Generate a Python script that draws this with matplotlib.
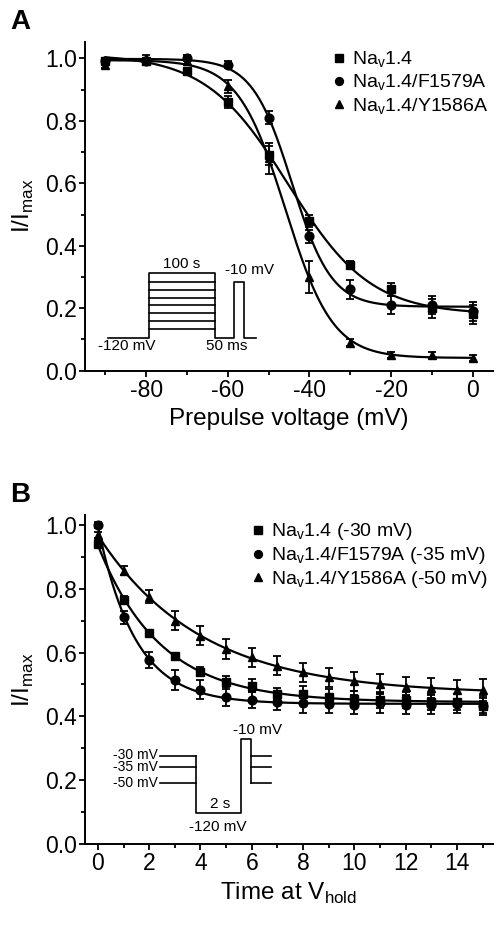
import numpy as np
import matplotlib.pyplot as plt
from matplotlib.ticker import MultipleLocator

plt.rcParams['font.family'] = ['Liberation Sans', 'DejaVu Sans']

# Panel A: steady-state slow inactivation
prepulse = [-90, -80, -70, -60, -50, -40, -30, -20, -10, 0]
nav14 = [0.99, 0.99, 0.96, 0.86, 0.69, 0.48, 0.34, 0.26, 0.20, 0.18]
nav14_err = [0.01, 0.01, 0.01, 0.02, 0.03, 0.02, 0.01, 0.02, 0.03, 0.03]
f1579a = [0.99, 0.99, 1.00, 0.98, 0.81, 0.43, 0.26, 0.21, 0.21, 0.19]
f1579a_err = [0.01, 0.01, 0.01, 0.01, 0.02, 0.02, 0.03, 0.03, 0.03, 0.03]
y1586a = [0.98, 1.00, 0.99, 0.91, 0.68, 0.30, 0.09, 0.05, 0.05, 0.04]
y1586a_err = [0.01, 0.01, 0.01, 0.02, 0.05, 0.05, 0.01, 0.01, 0.01, 0.01]
labels_a = ['Na$_\\mathregular{v}$1.4', 'Na$_\\mathregular{v}$1.4/F1579A',
            'Na$_\\mathregular{v}$1.4/Y1586A']

# Panel B: time course at V_hold
t_hold = list(range(16))
nav14_b = [0.94, 0.766, 0.66, 0.588, 0.54, 0.507, 0.496, 0.47, 0.47, 0.46,
           0.455, 0.45, 0.45, 0.446, 0.444, 0.434]
nav14_b_err = [0.01, 0.01, 0.01, 0.01, 0.015, 0.02, 0.02, 0.02, 0.025, 0.025,
               0.025, 0.025, 0.025, 0.025, 0.025, 0.025]
f1579a_b = [1.00, 0.71, 0.578, 0.514, 0.483, 0.462, 0.451, 0.444, 0.441, 0.439,
            0.437, 0.441, 0.437, 0.437, 0.439, 0.434]
f1579a_b_err = [0.01, 0.02, 0.025, 0.03, 0.03, 0.03, 0.025, 0.025, 0.03, 0.03,
                0.03, 0.03, 0.03, 0.03, 0.03, 0.03]
y1586a_b = [0.968, 0.857, 0.775, 0.70, 0.653, 0.611, 0.585, 0.559, 0.538, 0.522,
            0.51, 0.502, 0.493, 0.489, 0.483, 0.483]
y1586a_b_err = [0.01, 0.015, 0.02, 0.03, 0.03, 0.03, 0.03, 0.03, 0.03, 0.03,
                0.03, 0.03, 0.03, 0.03, 0.03, 0.035]
labels_b = ['Na$_\\mathregular{v}$1.4 (-30 mV)', 'Na$_\\mathregular{v}$1.4/F1579A (-35 mV)',
            'Na$_\\mathregular{v}$1.4/Y1586A (-50 mV)']

markers = ['s', 'o', '^']


def boltzmann_fit(v, y):
    # least squares Boltzmann fit: grid over Vh, k; top/bottom solved linearly
    v = np.asarray(v, float)
    y = np.asarray(y, float)
    vh = np.arange(-65, -25, 0.1)[:, None, None]
    k = np.arange(1.0, 15, 0.05)[None, :, None]
    s = 1 / (1 + np.exp((v - vh) / k))
    u = 1 - s
    sss, suu, ssu = (s * s).sum(-1), (u * u).sum(-1), (s * u).sum(-1)
    sy, uy = (s * y).sum(-1), (u * y).sum(-1)
    det = sss * suu - ssu ** 2
    top = (sy * suu - uy * ssu) / det
    bot = (uy * sss - sy * ssu) / det
    res = ((top[..., None] * s + bot[..., None] * u - y) ** 2).sum(-1)
    i, j = np.unravel_index(np.argmin(res), res.shape)
    p = (vh[i, 0, 0], k[0, j, 0], top[i, j], bot[i, j])
    return lambda x: p[3] + (p[2] - p[3]) / (1 + np.exp((x - p[0]) / p[1]))


def exp_fit(t, y):
    # single exponential y0 + A*exp(-t/tau), tau by grid, y0 and A linear
    t = np.asarray(t, float)
    y = np.asarray(y, float)
    best = None
    for tau in np.arange(0.2, 10, 0.01):
        e = np.exp(-t / tau)
        M = np.column_stack([np.ones_like(t), e])
        c, *_ = np.linalg.lstsq(M, y, rcond=None)
        r = ((M @ c - y) ** 2).sum()
        if best is None or r < best[0]:
            best = (r, tau, c)
    _, tau, c = best
    return lambda x: c[0] + c[1] * np.exp(-x / tau)


def style_axes(ax):
    for side in ['top', 'right']:
        ax.spines[side].set_visible(False)
    for side in ['left', 'bottom']:
        ax.spines[side].set_linewidth(1.4)
    ax.tick_params(which='major', direction='out', length=4, width=1.3,
                   labelsize=16.5, pad=2)
    ax.tick_params(which='minor', direction='out', length=3, width=1.3)


def draw_series(ax, x, ys, errs, labels, fitter, xfine):
    handles = []
    for y, e, m, lab in zip(ys, errs, markers, labels):
        ax.plot(xfine, fitter(x, y)(xfine), color='black', lw=1.6, zorder=2)
        ax.errorbar(x, y, yerr=e, fmt='none', ecolor='black', elinewidth=1.3,
                    capsize=3, capthick=1.3, zorder=3)
        h, = ax.plot(x, y, ls='none', marker=m, color='black', ms=6.3, zorder=4,
                     label=lab)
        handles.append(h)
    return handles


fig = plt.figure(figsize=(4.96, 9.46), dpi=100)
ax_a = fig.add_axes([0.1714, 0.6081, 0.8226, 0.3478])
ax_b = fig.add_axes([0.1714, 0.1078, 0.8226, 0.3478])

# ----- Panel A -----
style_axes(ax_a)
hA = draw_series(ax_a, prepulse, [nav14, f1579a, y1586a],
                 [nav14_err, f1579a_err, y1586a_err], labels_a,
                 boltzmann_fit, np.linspace(-90, 0, 400))
ax_a.set_xlim(-95, 5)
ax_a.set_ylim(0, 1.053)
ax_a.xaxis.set_major_locator(MultipleLocator(20))
ax_a.xaxis.set_minor_locator(MultipleLocator(10))
ax_a.yaxis.set_major_locator(MultipleLocator(0.2))
ax_a.yaxis.set_minor_locator(MultipleLocator(0.1))
ax_a.xaxis.set_major_formatter(lambda v, pos: f'{v:.0f}')
ax_a.yaxis.set_major_formatter(lambda v, pos: f'{v:.1f}')
ax_a.set_xlabel('Prepulse voltage (mV)', fontsize=17.5, labelpad=4)
ax_a.set_ylabel('I/I$_\\mathregular{max}$', fontsize=17.5, labelpad=6)
ax_a.legend(handles=hA, loc='upper left', bbox_to_anchor=(0.588, 0.999),
            frameon=False, fontsize=14, handlelength=0.6, handletextpad=0.4,
            labelspacing=0.15, borderaxespad=0, markerscale=0.9)

# protocol sketch, panel A
lw = 1.2
ax_a.plot([-89.3, -79.3, -79.3, -63.2, -63.2, -58.4, -58.4, -56.1, -56.1, -53.0],
          [0.105, 0.105, 0.312, 0.312, 0.105, 0.105, 0.285, 0.285, 0.105, 0.105],
          color='black', lw=lw)
for lev in np.linspace(0.133, 0.285, 7):
    ax_a.plot([-79.3, -63.2], [lev, lev], color='black', lw=lw)
ax_a.text(-71.2, 0.318, '100 s', ha='center', va='bottom', fontsize=11)
ax_a.text(-54.6, 0.300, '-10 mV', ha='center', va='bottom', fontsize=11)
ax_a.text(-84.8, 0.078, '-120 mV', ha='center', va='center', fontsize=11)
ax_a.text(-60.3, 0.078, '50 ms', ha='center', va='center', fontsize=11)

# ----- Panel B -----
style_axes(ax_b)
hB = draw_series(ax_b, t_hold, [nav14_b, f1579a_b, y1586a_b],
                 [nav14_b_err, f1579a_b_err, y1586a_b_err], labels_b,
                 exp_fit, np.linspace(0, 15, 400))
ax_b.set_xlim(-0.5, 15.4)
ax_b.set_ylim(0, 1.031)
ax_b.xaxis.set_major_locator(MultipleLocator(2))
ax_b.xaxis.set_minor_locator(MultipleLocator(1))
ax_b.yaxis.set_major_locator(MultipleLocator(0.2))
ax_b.yaxis.set_minor_locator(MultipleLocator(0.1))
ax_b.yaxis.set_major_formatter(lambda v, pos: f'{v:.1f}')
ax_b.set_xlabel('Time at V$_\\mathregular{hold}$', fontsize=17.5, labelpad=4)
ax_b.set_ylabel('I/I$_\\mathregular{max}$', fontsize=17.5, labelpad=6)
ax_b.legend(handles=hB, loc='upper left', bbox_to_anchor=(0.39, 1.004),
            frameon=False, fontsize=14, handlelength=0.6, handletextpad=0.4,
            labelspacing=0.15, borderaxespad=0, markerscale=0.9)

# protocol sketch, panel B
for lev in [0.276, 0.242, 0.190]:
    ax_b.plot([2.41, 3.84], [lev, lev], color='black', lw=lw)
    ax_b.plot([5.97, 6.74], [lev, lev], color='black', lw=lw)
ax_b.plot([3.84, 3.84, 5.58, 5.58, 5.97, 5.97],
          [0.276, 0.096, 0.096, 0.328, 0.328, 0.190], color='black', lw=lw)
for lev, txt in zip([0.279, 0.240, 0.190], ['-30 mV', '-35 mV', '-50 mV']):
    ax_b.text(2.35, lev, txt, ha='right', va='center', fontsize=10)
ax_b.text(4.77, 0.103, '2 s', ha='center', va='bottom', fontsize=11)
ax_b.text(4.67, 0.054, '-120 mV', ha='center', va='center', fontsize=11)
ax_b.text(6.22, 0.335, '-10 mV', ha='center', va='bottom', fontsize=11)

fig.text(0.02, 0.99, 'A', fontsize=20, fontweight='bold', va='top')
fig.text(0.02, 0.491, 'B', fontsize=20, fontweight='bold', va='top')

fig.savefig('out.png', dpi=100)
